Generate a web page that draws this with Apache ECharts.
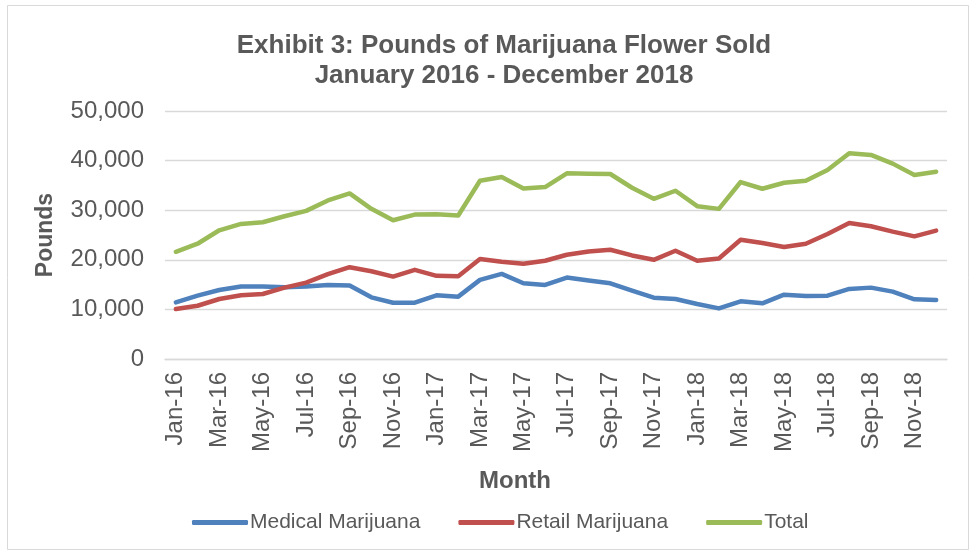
<!DOCTYPE html>
<html>
<head>
<meta charset="utf-8">
<script src="https://cdn.jsdelivr.net/npm/echarts@6/dist/echarts.min.js"></script>
<style>
html,body{margin:0;padding:0;background:#fff;}
#chart{width:976px;height:554px;}
</style>
</head>
<body>
<div id="chart"></div>
<script>
const months = ['Jan-16','Feb-16','Mar-16','Apr-16','May-16','Jun-16','Jul-16','Aug-16','Sep-16','Oct-16','Nov-16','Dec-16',
  'Jan-17','Feb-17','Mar-17','Apr-17','May-17','Jun-17','Jul-17','Aug-17','Sep-17','Oct-17','Nov-17','Dec-17',
  'Jan-18','Feb-18','Mar-18','Apr-18','May-18','Jun-18','Jul-18','Aug-18','Sep-18','Oct-18','Nov-18','Dec-18'];
const medical = [11420,12770,13920,14600,14600,14460,14600,14930,14800,12430,11350,11350,
  12840,12570,15950,17160,15270,14930,16420,15810,15270,13780,12370,12100,
  11080,10200,11620,11220,12970,12700,12770,14120,14390,13580,12030,11890];
const retail = [10070,10740,12100,12840,13110,14390,15400,17100,18510,17700,16620,17970,
  16760,16690,20140,19600,19190,19800,21010,21690,22030,20880,20000,21820,
  19800,20270,24050,23380,22570,23240,25200,27430,26760,25680,24730,25880];
const total = [21620,23240,25950,27230,27570,28780,29870,31960,33380,30270,27970,29120,
  29190,28920,35950,36690,34390,34660,37430,37370,37300,34530,32300,33920,
  30810,30270,35680,34320,35540,35950,38110,41490,41150,39390,37100,37770];
const seriesNames = ['Medical Marijuana','Retail Marijuana','Total'];
const yTicks = {min:0, max:50000, interval:10000};

const FONT = '"Liberation Sans", Arial, sans-serif';
const TXT = '#595959';
const colors = ['#4F81BD','#C0504D','#9BBB59'];

const chart = echarts.init(document.getElementById('chart'), null, {renderer:'canvas'});
chart.setOption({
  animation:false,
  backgroundColor:'#fff',
  graphic:[{type:'rect', shape:{x:7.5,y:5.5,width:961,height:544}, style:{fill:'none', stroke:'#d9d9d9', lineWidth:1}, z:-1}],
  title:{
    text:'Exhibit 3: Pounds of Marijuana Flower Sold\nJanuary 2016 - December 2018',
    left:499, top:26, textAlign:'center',
    textStyle:{fontFamily:FONT, fontSize:26, fontWeight:'bold', color:TXT, lineHeight:30}
  },
  legend:{
    data:seriesNames,
    bottom:16, left:187,
    icon:'roundRect', itemWidth:56, itemHeight:5, itemGap:38,
    textStyle:{fontFamily:FONT, fontSize:21, color:TXT, padding:[0,0,0,-3]}
  },
  grid:{left:165, right:29, top:111, bottom:195},
  xAxis:{
    type:'category', data:months, boundaryGap:true,
    name:'Month', nameLocation:'middle', nameGap:110,
    nameTextStyle:{fontFamily:FONT, fontSize:24, fontWeight:'bold', color:TXT, padding:[0,82,0,0]},
    axisLine:{show:true, lineStyle:{color:'#d9d9d9', width:1.3}},
    axisTick:{show:false},
    axisLabel:{interval:1, rotate:90, margin:13, fontFamily:FONT, fontSize:24, color:TXT}
  },
  yAxis:{
    type:'value', min:yTicks.min, max:yTicks.max, interval:yTicks.interval,
    name:'Pounds', nameLocation:'middle', nameGap:108, nameRotate:90,
    nameTextStyle:{fontFamily:FONT, fontSize:23, fontWeight:'bold', color:TXT},
    axisLine:{show:false}, axisTick:{show:false},
    axisLabel:{margin:21, fontFamily:FONT, fontSize:24, color:TXT,
      formatter:v=>v.toLocaleString('en-US')},
    splitLine:{lineStyle:{color:'#d9d9d9', width:1.3}}
  },
  series:[medical, retail, total].map((d,i)=>({
    name:seriesNames[i], type:'line', data:d, symbol:'none', smooth:false,
    lineStyle:{width:4.5, color:colors[i], cap:'round', join:'round'},
    itemStyle:{color:colors[i]}
  }))
});
</script>
</body>
</html>
